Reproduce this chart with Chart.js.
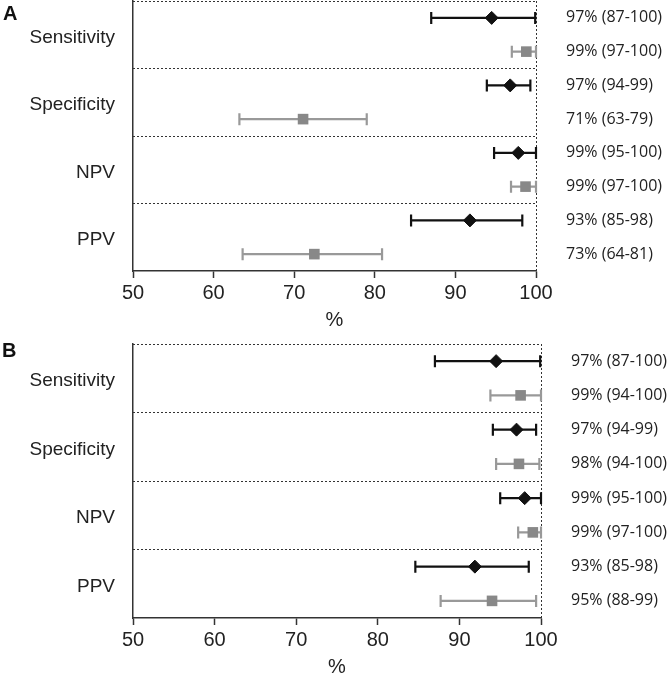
<!DOCTYPE html>
<html>
<head>
<meta charset="utf-8">
<script src="https://cdn.jsdelivr.net/npm/chart.js@4.4.0/dist/chart.umd.min.js"></script>
<style>
  body { margin: 0; background: #fff; }
  #wrap { position: relative; width: 669px; height: 677px; overflow: hidden; }
  canvas { position: absolute; left: 0; display: block; }
  .panel { position: absolute; font: bold 20px "Liberation Sans", Arial, sans-serif; line-height: 20px; color: #111; }
</style>
</head>
<body>
<div id="wrap">
  <canvas id="chartA" width="669" height="336" style="top:0"></canvas>
  <canvas id="chartB" width="669" height="341" style="top:336px"></canvas>
  <div class="panel" style="left:3px; top:3px">A</div>
  <div class="panel" style="left:2px; top:340px">B</div>
</div>
<script>
const categories = ['Sensitivity', 'Specificity', 'NPV', 'PPV'];
const xTicks = [50, 60, 70, 80, 90, 100];

// panel A
const aBlackEst = [94.5, 96.8, 97.8, 91.8];
const aBlackLo = [87.0, 93.9, 94.8, 84.5];
const aBlackHi = [99.9, 99.3, 100, 98.3];
const aGrayEst = [98.8, 71.1, 98.7, 72.5];
const aGrayLo = [97.0, 63.2, 96.9, 63.6];
const aGrayHi = [100, 79.0, 100, 80.9];
const aBlackText = ['97% (87-100)', '97% (94-99)', '99% (95-100)', '93% (85-98)'];
const aGrayText = ['99% (97-100)', '71% (63-79)', '99% (97-100)', '73% (64-81)'];

// panel B
const bBlackEst = [94.5, 97.0, 98.0, 91.9];
const bBlackLo = [87.0, 94.1, 95.0, 84.6];
const bBlackHi = [99.9, 99.4, 100, 98.5];
const bGrayEst = [97.5, 97.3, 99.0, 94.0];
const bGrayLo = [93.8, 94.5, 97.2, 87.7];
const bGrayHi = [100, 99.8, 100, 99.4];
const bBlackText = ['97% (87-100)', '97% (94-99)', '99% (95-100)', '93% (85-98)'];
const bGrayText = ['99% (94-100)', '98% (94-100)', '99% (97-100)', '95% (88-99)'];

Chart.defaults.font.family = '"Liberation Sans", Arial, sans-serif';
Chart.defaults.color = '#222';

// horizontal CI whiskers, drawn under the markers
const errorBars = {
    id: 'errorBars',
    beforeDatasetsDraw(chart) {
        const ctx = chart.ctx;
        const xs = chart.scales.x;
        chart.data.datasets.forEach(function (ds, i) {
            chart.getDatasetMeta(i).data.forEach(function (pt, j) {
                const x1 = xs.getPixelForValue(ds.lo[j]);
                const x2 = xs.getPixelForValue(ds.hi[j]);
                const y = pt.y;
                ctx.save();
                ctx.strokeStyle = ds.barColor;
                ctx.lineWidth = 2.2;
                ctx.beginPath();
                ctx.moveTo(x1, y); ctx.lineTo(x2, y);
                ctx.moveTo(x1, y - 6); ctx.lineTo(x1, y + 6);
                ctx.moveTo(x2, y - 6); ctx.lineTo(x2, y + 6);
                ctx.stroke();
                ctx.restore();
            });
        });
    }
};

function makePanel(id, p) {
    const blackPts = p.blackEst.map((v, g) => ({ x: v, y: g * 2 + 0.5 }));
    const grayPts = p.grayEst.map((v, g) => ({ x: v, y: g * 2 + 1.5 }));

    const rightLabels = {};
    const rightTicks = [];
    categories.forEach(function (c, g) {
        rightLabels[g * 2 + 0.5] = p.blackText[g];
        rightLabels[g * 2 + 1.5] = p.grayText[g];
        rightTicks.push(g * 2, g * 2 + 0.5, g * 2 + 1.5);
    });
    const leftTicks = categories.map((c, g) => g * 2 + 1);

    return new Chart(document.getElementById(id), {
        type: 'scatter',
        data: {
            datasets: [{
                data: blackPts,
                lo: p.blackLo, hi: p.blackHi,
                barColor: '#111',
                backgroundColor: '#111',
                borderColor: '#111',
                pointStyle: 'rectRot',
                pointRadius: 6.5,
                pointBorderWidth: 1,
                clip: false
            }, {
                data: grayPts,
                lo: p.grayLo, hi: p.grayHi,
                barColor: '#999',
                backgroundColor: '#888',
                borderColor: '#888',
                pointStyle: 'rect',
                pointRadius: 7.5,
                pointBorderWidth: 0,
                clip: false
            }]
        },
        options: {
            responsive: false,
            animation: false,
            layout: { autoPadding: false, padding: { top: p.padTop, left: 0, right: 0, bottom: 0 } },
            plugins: { legend: { display: false }, tooltip: { enabled: false } },
            scales: {
                x: {
                    type: 'linear',
                    min: 50, max: 100,
                    afterBuildTicks: s => { s.ticks = xTicks.map(v => ({ value: v })); },
                    afterFit: s => { s.height = p.xHeight; s.paddingLeft = 0; s.paddingRight = 0; },
                    ticks: { padding: 3, font: { size: 20 }, color: '#222', maxRotation: 0, autoSkip: false },
                    grid: {
                        display: true,
                        drawOnChartArea: true,
                        color: c => (c.tick && c.tick.value === 100) ? '#333' : 'transparent',
                        lineWidth: 1,
                        drawTicks: true,
                        tickLength: 7,
                        tickColor: '#333',
                        tickWidth: 1.5,
                        tickBorderDash: []
                    },
                    border: { display: true, color: '#333', width: 1.5, dash: [2, 2] },
                    title: { display: true, text: '%', font: { size: 20, lineHeight: 1 }, color: '#222', padding: { top: 0, bottom: p.titlePad } }
                },
                y: {
                    type: 'linear',
                    position: 'left',
                    reverse: true,
                    min: 0, max: 8,
                    afterBuildTicks: s => { s.ticks = leftTicks.map(v => ({ value: v })); },
                    afterFit: s => { s.width = 133; s.paddingTop = 0; s.paddingBottom = 0; },
                    ticks: {
                        autoSkip: false,
                        padding: 18,
                        labelOffset: 3,
                        font: { size: 19 },
                        color: '#222',
                        callback: v => categories[(v - 1) / 2]
                    },
                    grid: { display: false, drawTicks: false },
                    border: { display: true, color: '#333', width: 1.5 }
                },
                yR: {
                    type: 'linear',
                    position: 'right',
                    reverse: true,
                    min: 0, max: 8,
                    afterBuildTicks: s => { s.ticks = rightTicks.map(v => ({ value: v })); },
                    afterFit: s => { s.width = p.rightWidth; s.paddingTop = 0; s.paddingBottom = 0; },
                    ticks: {
                        autoSkip: false,
                        padding: 30,
                        font: { family: '"Open Sans", sans-serif', size: 16 },
                        color: '#222',
                        callback: v => rightLabels[v] || ''
                    },
                    grid: {
                        display: true,
                        drawOnChartArea: true,
                        drawTicks: false,
                        lineWidth: 1,
                        color: c => (c.tick && c.tick.value % 2 === 0) ? '#333' : 'transparent'
                    },
                    border: { display: false, dash: [2, 2] }
                }
            }
        },
        plugins: [errorBars]
    });
}

makePanel('chartA', {
    blackEst: aBlackEst, blackLo: aBlackLo, blackHi: aBlackHi,
    grayEst: aGrayEst, grayLo: aGrayLo, grayHi: aGrayHi,
    blackText: aBlackText, grayText: aGrayText,
    padTop: 1, xHeight: 65, titlePad: 6, rightWidth: 133
});

makePanel('chartB', {
    blackEst: bBlackEst, blackLo: bBlackLo, blackHi: bBlackHi,
    grayEst: bGrayEst, grayLo: bGrayLo, grayHi: bGrayHi,
    blackText: bBlackText, grayText: bGrayText,
    padTop: 8, xHeight: 59, titlePad: 0, rightWidth: 128
});
</script>
</body>
</html>
